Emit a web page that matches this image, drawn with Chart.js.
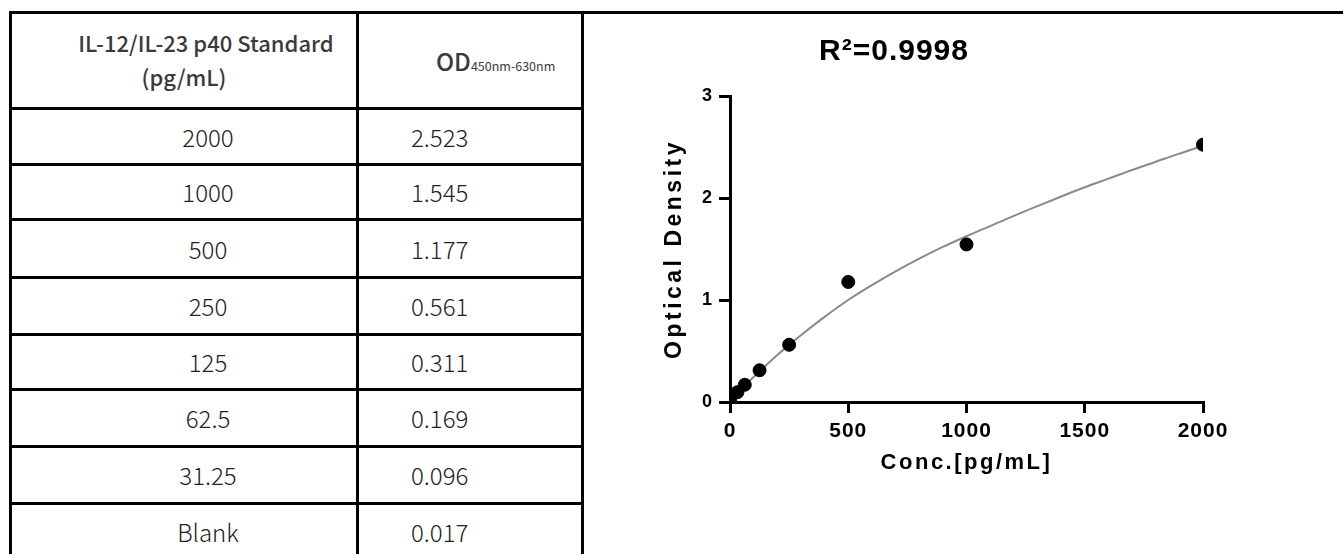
<!DOCTYPE html>
<html><head><meta charset="utf-8">
<script src="https://cdn.jsdelivr.net/npm/chart.js@4"></script>
<style>
html,body{margin:0;padding:0;background:#fff;width:1343px;height:554px;overflow:hidden;position:relative;}
.ln{position:absolute;background:#000;z-index:5;}
.txt{position:absolute;white-space:nowrap;font-family:"Noto Sans CJK SC","Noto Sans",sans-serif;color:#222;display:flex;align-items:center;}
#wrap{position:absolute;left:585px;top:0;width:758px;height:554px;}
</style></head><body>
<div id="tbl"></div>
<div id="wrap"><canvas id="c" width="758" height="554"></canvas></div>
<script>
// ---- data ----
const standardLabels = ["2000","1000","500","250","125","62.5","31.25","Blank"];
const odLabels = ["2.523","1.545","1.177","0.561","0.311","0.169","0.096","0.017"];
const concValues = [2000,1000,500,250,125,62.5,31.25,0];
const odValues = [2.523,1.545,1.177,0.561,0.311,0.169,0.096,0.017];
// fitted curve
const curveConc = [0,50,100,200,250,300,400,500,600,700,800,900,1000,1100,1200,1300,1400,1500,1600,1700,1800,1900,2000];
const curveOD   = [0.02,0.135,0.245,0.46,0.56,0.655,0.835,1.00,1.145,1.28,1.405,1.52,1.625,1.725,1.825,1.92,2.015,2.105,2.19,2.275,2.355,2.435,2.51];
const xTicks = [0,500,1000,1500,2000];
const yTicks = [0,1,2,3];
const headerCol1 = ["IL-12/IL-23 p40 Standard","(pg/mL)"];
const headerCol2 = ["OD","450nm-630nm"];
const chartTitle = "R\u00B2=0.9998";
const xTitle = "Conc.[pg/mL]";
const yTitle = "Optical Density";

// ---- table layout ----
const rowLines = [12,108,164,219,277,334,389,446,503];
const colLines = [10,357,582];
const tbl = document.getElementById('tbl');
function add(cls, css, html){ const d=document.createElement('div'); d.className=cls; Object.assign(d.style, css); if(html!==undefined) d.innerHTML=html; tbl.appendChild(d); return d; }
rowLines.forEach((y,i)=>{
  add('ln',{left:(colLines[0]-1.5)+'px', top:(y-1.5)+'px', height:'3px', width: i===0 ? (1343-colLines[0]+2)+'px' : (colLines[2]-colLines[0]+3)+'px'});
});
colLines.forEach(x=>{
  add('ln',{left:(x-1.5)+'px', top:(rowLines[0]-1.5)+'px', width:'3px', height:(560-rowLines[0])+'px'});
});
// header
add('txt',{left:'56px', width:'300px', top:'25px', height:'33px', justifyContent:'center', fontSize:'22px', fontWeight:'500', color:'#3a3a3a'}, headerCol1[0]);
add('txt',{left:'84px', width:'200px', top:'59px', height:'33px', justifyContent:'center', fontSize:'22px', fontWeight:'500', color:'#3a3a3a'}, headerCol1[1]);
add('txt',{left:'436px', top:'43px', height:'34px', fontSize:'24px', fontWeight:'500', color:'#3a3a3a', alignItems:'baseline'},
  headerCol2[0] + '<span style="font-size:12.5px;font-weight:400;">' + headerCol2[1] + '</span>');
// rows
standardLabels.forEach((s,i)=>{
  const top = rowLines[i+1], bot = (i+2<rowLines.length) ? rowLines[i+2] : 560;
  add('txt',{left:'58px', width:'300px', top:top+'px', height:(bot-top)+'px', justifyContent:'center', fontSize:'24px', fontWeight:'300'}, s);
  add('txt',{left:'411px', top:top+'px', height:(bot-top)+'px', fontSize:'24px', fontWeight:'300'}, odLabels[i]);
});

// ---- chart ----
Chart.defaults.font.family = "'Liberation Sans', Arial, sans-serif";
Chart.defaults.color = '#000';
const spacing = {id:'spacing',
  beforeDraw(chart){
    chart.ctx.letterSpacing = '1px';
    [['x','2.5px'],['y','3.5px']].forEach(([id,sp])=>{
      const s = chart.scales[id];
      if (s && !s._patched){
        const orig = s.drawTitle;
        s.drawTitle = function(){ const c=this.ctx; c.save(); c.letterSpacing=sp; orig.call(this); c.restore(); };
        s._patched = true;
      }
    });
  },
  afterDraw(chart){ chart.ctx.letterSpacing = '0px'; }
};
const axisCommon = {
  type:'linear',
  grid:{drawOnChartArea:false, drawTicks:true, tickLength:11, tickWidth:3, tickColor:'#000', color:'#000', lineWidth:3},
  border:{display:true, color:'#000', width:3},
};
new Chart(document.getElementById('c'), {
  type:'scatter',
  data:{datasets:[
    {type:'line', data: curveConc.map((x,i)=>({x:x, y:curveOD[i]})), borderColor:'#8a8a8a', borderWidth:2, pointRadius:0, cubicInterpolationMode:'monotone', fill:false, order:2},
    {type:'scatter', data: concValues.map((x,i)=>({x:x, y:odValues[i]})), backgroundColor:'#000', borderColor:'#000', pointRadius:6.5, order:1}
  ]},
  options:{
    responsive:false, animation:false,
    layout:{padding:{left:0,right:140,top:0,bottom:0}},
    plugins:{
      legend:{display:false}, tooltip:{enabled:false},
      title:{display:true, text:chartTitle, color:'#000', font:{size:30, weight:'bold', lineHeight:1}, padding:{top:37,bottom:29}}
    },
    scales:{
      x:Object.assign({}, axisCommon, {
        min:0, max:2000,
        afterFit(s){ s.height = 152; },
        afterBuildTicks(s){ s.ticks = xTicks.map(v=>({value:v})); },
        ticks:{color:'#000', font:{size:21, weight:'bold'}, padding:6, maxRotation:0, autoSkip:false, callback:(v)=>String(v)},
        title:{display:true, text:xTitle, color:'#000', font:{size:22, weight:'bold', lineHeight:1}, padding:{top:0,bottom:80}}
      }),
      y:Object.assign({}, axisCommon, {
        min:0, max:3,
        afterFit(s){ s.width = 145; },
        afterBuildTicks(s){ s.ticks = yTicks.map(v=>({value:v})); },
        ticks:{color:'#000', font:{size:18, weight:'bold'}, padding:6, autoSkip:false, callback:(v)=>String(v)},
        title:{display:true, text:yTitle, color:'#000', font:{size:23, weight:'bold', lineHeight:1}, padding:{top:78.5,bottom:0}}
      })
    }
  },
  plugins:[spacing]
});
</script>
</body></html>
